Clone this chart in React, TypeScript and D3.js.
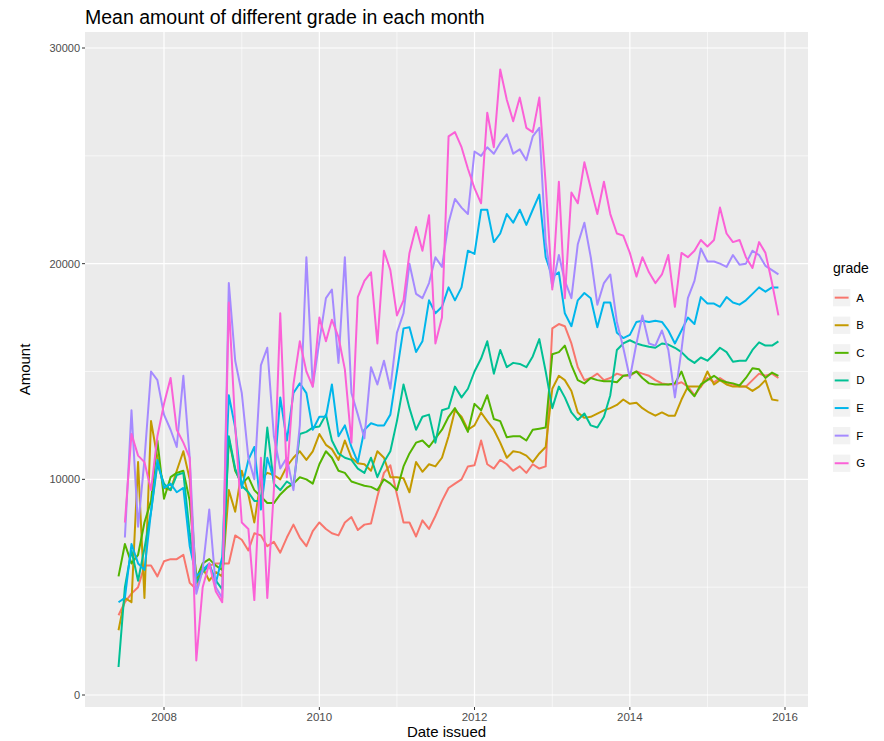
import React from "react";
import * as d3 from "d3";

const grades = ["A", "B", "C", "D", "E", "F", "G"];
const colors = ["#F8766D", "#C49A00", "#53B400", "#00C094", "#00B6EB", "#A58AFF", "#FB61D7"];
const startYear = 2007;
const startMonth = 5; // June 2007
const yTicks = [0, 10000, 20000, 30000];
const yMinor = [5000, 15000, 25000];
const xTickYears = [2008, 2010, 2012, 2014, 2016];
const xMinorYears = [2009, 2011, 2013, 2015];

const gradeA = [3700,4300,4700,5000,6000,6000,5500,6200,6300,6300,6500,5200,4900,5800,6000,6100,6100,6100,7400,7200,6700,7500,7400,6900,7100,6600,7300,7900,7300,6900,7600,8000,7700,7500,7400,8000,8250,7650,7900,7950,9200,10300,10650,9300,8000,8000,7350,8100,7700,8300,9000,9600,9800,10000,10600,10650,11800,10700,10500,10900,10700,10400,10600,10300,10700,10500,10600,17000,17200,17100,16300,15200,14600,14700,14900,14600,14700,14900,14800,14800,15000,14900,14800,14600,14450,14400,14400,14500,14300,13900,14300,14700,14500,14700,14500,14400,14300,14300,14600,14900,14800,14900,14700];
const gradeB = [3000,4500,4300,10800,4500,12700,11000,9600,9500,10400,11300,10000,5200,5900,5300,5700,5500,9500,8500,10400,9300,8000,10000,10300,10200,10000,10600,11000,11300,10900,11300,12100,11600,11400,10900,11800,11000,10750,10700,10400,11300,11000,10100,10100,10050,9400,10800,10350,10700,10600,11000,12000,13200,12900,12300,12500,13100,12700,12300,11700,11000,11300,11250,11100,10800,11200,11500,14200,14800,14600,14100,13100,12850,12900,13050,13200,13300,13450,13700,13500,13550,13300,13100,12950,13100,12950,12950,13700,14300,14300,14300,15000,14400,14600,14400,14300,14300,14300,14100,14300,14600,13700,13650];
const gradeC = [5500,7000,6100,6500,8000,9000,11800,9100,10100,10300,10400,9000,5400,6100,6300,6000,5800,11900,10400,9800,10100,9500,9200,8900,8900,9300,9600,9800,10100,10000,9800,10700,11300,11000,10400,10300,9900,9800,9700,9650,9500,10000,9800,9500,10600,11200,11700,11800,11500,11900,12300,12900,13300,12800,12200,13500,13200,13900,12800,12700,11950,12000,12000,11800,12300,12350,12400,15800,15900,16200,15300,14600,14450,14700,14600,14550,14550,14500,14800,14850,15000,14700,14450,14400,14400,14400,14450,15000,14200,13850,14400,14600,14800,14600,14500,14450,14350,14700,15150,15100,14700,14950,14800];
const gradeD = [1300,5000,6700,5300,6800,8500,10700,9800,9500,10200,10300,7500,5200,5700,6000,5300,4900,12000,10500,9700,9400,9000,9000,12400,9800,9500,9900,9700,12100,12200,12400,12450,13000,11800,11200,11000,10900,10500,10300,11000,10100,10800,11300,12700,14400,13300,12300,12900,13000,11700,13200,13300,14300,13800,14200,15000,15600,16400,14900,16000,15200,15400,15350,15200,15700,16500,15000,13300,14300,13800,13100,12750,13050,12500,12400,12900,13900,16000,16300,16450,16300,16220,16150,16100,16300,16250,16100,15900,15600,15400,15650,15500,15800,16100,15900,15450,15500,15500,16000,16350,16200,16200,16400];
const gradeE = [4300,4500,7000,6100,5800,8500,10900,9600,9800,9400,9600,6900,5500,5800,6100,5200,6400,13900,12400,9600,10900,11500,8600,11000,10000,13800,11800,14000,14450,14000,12300,12900,12900,14400,12000,12500,11500,10800,12300,12600,12500,12500,13000,15000,17000,17050,15900,16400,18300,17700,18000,18900,18300,18900,20600,20450,22500,22500,21000,21400,22300,21900,22500,21800,22500,23200,20300,19400,19600,17700,17100,18300,18640,18400,17050,18200,18200,16800,16550,16700,17300,17350,17300,17350,17300,16900,16300,16900,17500,17200,18450,18150,18150,18000,18450,18200,18100,18300,18600,18900,18700,18900,18900];
const gradeF = [null,7300,13200,7800,10900,15000,14600,13000,12300,11500,14800,11000,4700,5800,8600,5000,4500,19100,15500,14000,11000,10000,15300,16100,12000,10500,11000,9500,12500,20300,14300,16400,18400,18800,15400,20300,14000,13000,11900,15200,14400,15500,14200,16800,17700,20000,18600,18400,19100,20300,19850,21900,23000,22600,22300,25200,25000,25400,25100,25600,26000,25100,25300,24800,25900,26300,21000,18900,20400,19200,18400,20900,21900,20300,18100,19100,19500,17300,16100,14700,16300,17600,16300,16200,16900,16000,13800,16000,18400,19200,20700,20100,20100,20000,19850,20400,19950,20000,20600,20400,19900,19700,19500];
const gradeG = [null,8000,12100,11100,10800,9500,12000,13500,14700,12300,11700,11000,1600,5000,6100,4800,4300,18200,12500,8000,7700,4400,11000,4500,9500,17700,10100,14400,16400,15000,14300,17500,16400,17400,16600,15100,11700,18450,19200,19600,16300,20600,19700,17600,18300,20500,21700,20600,22250,16300,17500,25900,26100,25400,24400,23500,22800,27000,25400,29000,27600,26600,27700,26300,26100,27700,23700,18800,23800,18400,23300,22800,24700,23500,22300,23800,22300,21400,21300,20500,19400,20300,19600,19100,19500,20400,18000,20500,20300,20600,21100,20800,21100,22600,21400,21000,21100,20300,19800,21000,20500,19100,17600];

const seriesValues = [gradeA, gradeB, gradeC, gradeD, gradeE, gradeF, gradeG];

const W = 884;
const H = 741;
const panel = { left: 85, right: 808, top: 32, bottom: 707 };
const font = "'Liberation Sans', Arial, 'DejaVu Sans', sans-serif";

export default function App() {
  const x = d3
    .scaleTime()
    .domain([new Date(2008, 0, 1), new Date(2016, 0, 1)])
    .range([164, 785]);
  const y = d3.scaleLinear().domain([0, 30000]).range([695, 48]);

  const line = d3
    .line<{ d: Date; v: number | null }>()
    .defined((p) => p.v !== null)
    .x((p) => x(p.d))
    .y((p) => y(p.v as number));

  const series = seriesValues.map((vals) =>
    vals.map((v, i) => ({ d: new Date(startYear, startMonth + i, 1), v }))
  );

  const legendX = 833;
  const legendTop = 289;
  const keySize = 17.3;
  const keyStep = 27.6;

  return (
    <svg width={W} height={H} style={{ display: "block", position: "absolute", left: 0, top: 0 }} fontFamily={font}>
      <rect x={0} y={0} width={W} height={H} fill="#ffffff" />
      <defs>
        <clipPath id="panelClip">
          <rect x={panel.left} y={panel.top} width={panel.right - panel.left} height={panel.bottom - panel.top} />
        </clipPath>
      </defs>
      <rect x={panel.left} y={panel.top} width={panel.right - panel.left} height={panel.bottom - panel.top} fill="#EBEBEB" />
      {yMinor.map((t) => (
        <line key={"ym" + t} x1={panel.left} x2={panel.right} y1={y(t)} y2={y(t)} stroke="#ffffff" strokeWidth={0.6} />
      ))}
      {xMinorYears.map((t) => (
        <line key={"xm" + t} y1={panel.top} y2={panel.bottom} x1={x(new Date(t, 0, 1))} x2={x(new Date(t, 0, 1))} stroke="#ffffff" strokeWidth={0.6} />
      ))}
      {yTicks.map((t) => (
        <line key={"yg" + t} x1={panel.left} x2={panel.right} y1={y(t)} y2={y(t)} stroke="#ffffff" strokeWidth={1.2} />
      ))}
      {xTickYears.map((t) => (
        <line key={"xg" + t} y1={panel.top} y2={panel.bottom} x1={x(new Date(t, 0, 1))} x2={x(new Date(t, 0, 1))} stroke="#ffffff" strokeWidth={1.2} />
      ))}
      <g clipPath="url(#panelClip)">
        {series.map((s, k) => (
          <path key={grades[k]} d={line(s) || ""} fill="none" stroke={colors[k]} strokeWidth={2} strokeLinejoin="round" />
        ))}
      </g>
      {yTicks.map((t) => (
        <g key={"yt" + t}>
          <line x1={panel.left - 3} x2={panel.left} y1={y(t)} y2={y(t)} stroke="#333333" strokeWidth={1} />
          <text x={panel.left - 5} y={y(t)} dy="0.35em" textAnchor="end" fontSize={11} fill="#4D4D4D">
            {t}
          </text>
        </g>
      ))}
      {xTickYears.map((t) => (
        <g key={"xt" + t}>
          <line y1={panel.bottom} y2={panel.bottom + 3} x1={x(new Date(t, 0, 1))} x2={x(new Date(t, 0, 1))} stroke="#333333" strokeWidth={1} />
          <text x={x(new Date(t, 0, 1))} y={panel.bottom + 14} textAnchor="middle" fontSize={11.5} fill="#4D4D4D">
            {t}
          </text>
        </g>
      ))}
      <text x={panel.left} y={24} fontSize={19.5} fill="#000000">
        Mean amount of different grade in each month
      </text>
      <text x={(panel.left + panel.right) / 2} y={737} textAnchor="middle" fontSize={15} fill="#000000">
        Date issued
      </text>
      <text transform={`translate(30, ${(panel.top + panel.bottom) / 2}) rotate(-90)`} textAnchor="middle" fontSize={15} fill="#000000">
        Amount
      </text>
      <text x={legendX} y={273} fontSize={14} fill="#000000">
        grade
      </text>
      {grades.map((g, k) => {
        const ky = legendTop + k * keyStep;
        return (
          <g key={"lg" + g}>
            <rect x={legendX} y={ky} width={keySize} height={keySize} fill="#F2F2F2" />
            <line x1={legendX + 1.7} x2={legendX + keySize - 1.7} y1={ky + keySize / 2} y2={ky + keySize / 2} stroke={colors[k]} strokeWidth={2} />
            <text x={legendX + keySize + 6} y={ky + keySize / 2} dy="0.35em" fontSize={11.5} fill="#000000">
              {g}
            </text>
          </g>
        );
      })}
    </svg>
  );
}
